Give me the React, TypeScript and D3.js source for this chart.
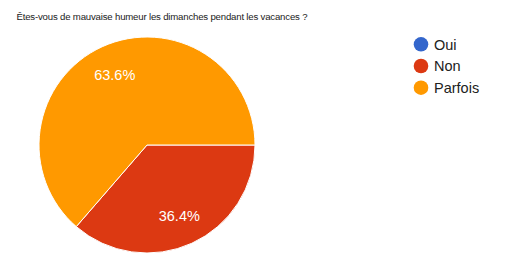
import React from "react";
import * as d3 from "d3";

const title = "Êtes-vous de mauvaise humeur les dimanches pendant les vacances ?";
const categories = ["Oui", "Non", "Parfois"];
const counts = [0, 4, 7];
const colors = ["#3366cc", "#dc3912", "#ff9900"];

export default function App() {
  const W = 512, H = 262;
  const cx = 147, cy = 145, r = 108;
  const total = d3.sum(counts);
  const pie = d3.pie<number>().sort(null).startAngle(Math.PI / 2).endAngle(Math.PI / 2 + 2 * Math.PI);
  const arcs = pie(counts);
  const arc = d3.arc<d3.PieArcDatum<number>>().innerRadius(0).outerRadius(r);
  const labelArc = d3.arc<d3.PieArcDatum<number>>().innerRadius(r * 0.72).outerRadius(r * 0.72);
  const font = "Arial, 'Liberation Sans', sans-serif";
  return (
    <svg width={W} height={H} style={{ position: "absolute", left: 0, top: 0, background: "#fff" }}>
      <text x={16.5} y={20} fontFamily={font} fontSize={9.6} fill="#212121" textLength={291} lengthAdjust="spacing">{title}</text>
      <g transform={`translate(${cx},${cy})`}>
        {arcs.map((a, i) =>
          a.value > 0 ? (
            <path key={i} d={arc(a) || ""} fill={colors[i]} stroke="#fff" strokeWidth={1} />
          ) : null
        )}
        {arcs.map((a, i) => {
          if (a.value <= 0) return null;
          const [x, y] = labelArc.centroid(a);
          return (
            <text key={"l" + i} x={x} y={y} dy="0.36em" textAnchor="middle" fontFamily={font} fontSize={14.5} fill="#fff">
              {((a.value / total) * 100).toFixed(1)}%
            </text>
          );
        })}
      </g>
      {categories.map((c, i) => (
        <g key={c} transform={`translate(421,${44.3 + i * 21.7})`}>
          <circle r={7.3} fill={colors[i]} />
          <text x={13} y={0} dy="0.36em" fontFamily={font} fontSize={14.5} fill="#212121">{c}</text>
        </g>
      ))}
    </svg>
  );
}
